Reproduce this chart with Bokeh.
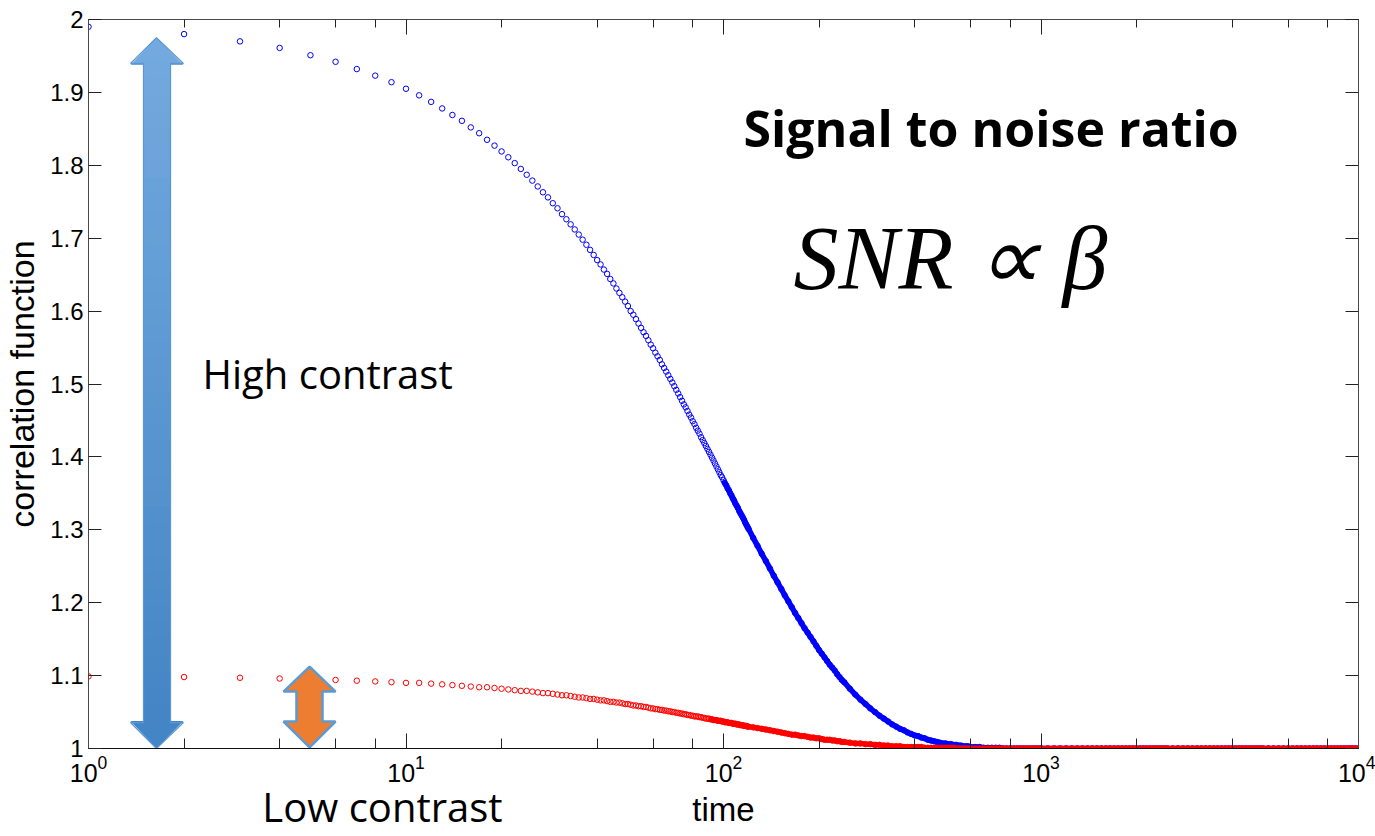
from bokeh.plotting import figure
from bokeh.models import (LogAxis, LinearAxis, FixedTicker, LogTicker,
                          CustomJSTickFormatter, Label)
from bokeh.embed import file_html
from bokeh.resources import INLINE

# ---------------- data ----------------
# sample times (integer lags, thinned where markers merge into a band)
t_a = list(range(1, 61))
t_b_even = list(range(62, 121, 2))
t_b_odd = list(range(61, 120, 2))
t_c = list(range(124, 241, 4))
t_d = list(range(250, 601, 10))
t_e = list(range(620, 1001, 20))
t_tail = list(range(1050, 2501, 50)) + list(range(2600, 5001, 100)) + list(range(5200, 10001, 200))

blue_a = [1.990, 1.980, 1.970, 1.961, 1.951, 1.942, 1.932, 1.923, 1.914, 1.905,
          1.896, 1.887, 1.878, 1.869, 1.861, 1.852, 1.844, 1.835, 1.827, 1.819,
          1.811, 1.803, 1.795, 1.787, 1.779, 1.771, 1.763, 1.756, 1.748, 1.741,
          1.733, 1.726, 1.719, 1.712, 1.705, 1.698, 1.691, 1.684, 1.677, 1.670,
          1.664, 1.657, 1.651, 1.644, 1.638, 1.631, 1.625, 1.619, 1.613, 1.607,
          1.600, 1.595, 1.589, 1.583, 1.577, 1.571, 1.566, 1.560, 1.554, 1.549]
blue_b_even = [1.538, 1.527, 1.517, 1.507, 1.497, 1.487, 1.477, 1.468, 1.458, 1.449,
               1.440, 1.432, 1.423, 1.415, 1.407, 1.399, 1.391, 1.383, 1.375, 1.368,
               1.361, 1.354, 1.347, 1.340, 1.333, 1.326, 1.320, 1.314, 1.307, 1.301]
blue_b_odd = [1.543, 1.533, 1.522, 1.512, 1.502, 1.492, 1.482, 1.472, 1.463, 1.454,
              1.445, 1.436, 1.427, 1.419, 1.411, 1.403, 1.395, 1.387, 1.379, 1.372,
              1.364, 1.357, 1.350, 1.343, 1.336, 1.330, 1.323, 1.317, 1.310, 1.304]
blue_c = [1.289, 1.278, 1.267, 1.257, 1.247, 1.237, 1.228, 1.219, 1.210, 1.202,
          1.194, 1.186, 1.179, 1.172, 1.165, 1.159, 1.153, 1.147, 1.141, 1.135,
          1.130, 1.125, 1.120, 1.115, 1.111, 1.107, 1.102, 1.098, 1.094, 1.091]
blue_d = [1.082, 1.074, 1.067, 1.061, 1.055, 1.050, 1.045, 1.041, 1.037, 1.033,
          1.030, 1.027, 1.025, 1.022, 1.020, 1.018, 1.017, 1.015, 1.014, 1.012,
          1.011, 1.010, 1.009, 1.008, 1.007, 1.007, 1.006, 1.006, 1.005, 1.005,
          1.004, 1.004, 1.003, 1.003, 1.003, 1.002]
blue_e = [1.002, 1.002, 1.001, 1.001, 1.001, 1.001, 1.001, 1.000, 1.000, 1.000,
          1.000, 1.000, 1.000, 1.000, 1.000, 1.000, 1.000, 1.000, 1.000, 1.000]

red_a = [1.099, 1.098, 1.097, 1.096, 1.095, 1.094, 1.093, 1.092, 1.091, 1.090,
         1.090, 1.089, 1.088, 1.087, 1.086, 1.085, 1.084, 1.084, 1.083, 1.082,
         1.081, 1.080, 1.079, 1.079, 1.078, 1.077, 1.076, 1.076, 1.075, 1.074,
         1.073, 1.073, 1.072, 1.071, 1.070, 1.070, 1.069, 1.068, 1.068, 1.067,
         1.066, 1.066, 1.065, 1.064, 1.064, 1.063, 1.063, 1.062, 1.061, 1.061,
         1.060, 1.059, 1.059, 1.058, 1.058, 1.057, 1.057, 1.056, 1.055, 1.055]
red_b_even = [1.054, 1.053, 1.052, 1.051, 1.050, 1.049, 1.048, 1.047, 1.046, 1.045,
              1.044, 1.043, 1.042, 1.041, 1.041, 1.040, 1.039, 1.038, 1.038, 1.037,
              1.036, 1.035, 1.035, 1.034, 1.033, 1.033, 1.032, 1.031, 1.031, 1.030]
red_b_odd = [1.054, 1.053, 1.052, 1.051, 1.050, 1.049, 1.048, 1.047, 1.046, 1.045,
             1.044, 1.044, 1.043, 1.042, 1.041, 1.040, 1.039, 1.039, 1.038, 1.037,
             1.036, 1.036, 1.035, 1.034, 1.034, 1.033, 1.032, 1.032, 1.031, 1.030]
red_c = [1.029, 1.028, 1.027, 1.026, 1.025, 1.024, 1.023, 1.022, 1.021, 1.020,
         1.019, 1.019, 1.018, 1.017, 1.017, 1.016, 1.015, 1.015, 1.014, 1.014,
         1.013, 1.012, 1.012, 1.012, 1.011, 1.011, 1.010, 1.010, 1.009, 1.009]
red_d = [1.008, 1.007, 1.007, 1.006, 1.006, 1.005, 1.005, 1.004, 1.004, 1.003,
         1.003, 1.003, 1.002, 1.002, 1.002, 1.002, 1.002, 1.002, 1.001, 1.001,
         1.001, 1.001, 1.001, 1.001, 1.001, 1.001, 1.001, 1.001, 1.001, 1.000,
         1.000, 1.000, 1.000, 1.000, 1.000, 1.000]
red_e = [1.000, 1.000, 1.000, 1.000, 1.000, 1.000, 1.000, 1.000, 1.000, 1.000,
         1.000, 1.000, 1.000, 1.000, 1.000, 1.000, 1.000, 1.000, 1.000, 1.000]

# flat tail (t > 1000): both curves read 1.000
tail_level = [1.0, 1.0, 1.0, 1.0, 1.0, 1.0, 1.0, 1.0, 1.0, 1.0,
              1.0, 1.0, 1.0, 1.0, 1.0, 1.0, 1.0, 1.0, 1.0, 1.0,
              1.0, 1.0, 1.0, 1.0, 1.0, 1.0, 1.0, 1.0, 1.0, 1.0,
              1.0, 1.0, 1.0, 1.0, 1.0, 1.0, 1.0, 1.0, 1.0, 1.0,
              1.0, 1.0, 1.0, 1.0, 1.0, 1.0, 1.0, 1.0, 1.0, 1.0,
              1.0, 1.0, 1.0, 1.0, 1.0, 1.0, 1.0, 1.0, 1.0, 1.0,
              1.0, 1.0, 1.0, 1.0, 1.0, 1.0, 1.0, 1.0, 1.0, 1.0,
              1.0, 1.0, 1.0, 1.0, 1.0, 1.0, 1.0, 1.0, 1.0, 1.0]

y_ticks = [1.0, 1.1, 1.2, 1.3, 1.4, 1.5, 1.6, 1.7, 1.8, 1.9, 2.0]

time = t_a + t_b_even + t_b_odd + t_c + t_d + t_e + t_tail
g_high = blue_a + blue_b_even + blue_b_odd + blue_c + blue_d + blue_e + tail_level
g_low = red_a + red_b_even + red_b_odd + red_c + red_d + red_e + tail_level

# dense part, where the markers merge into a solid band
dense_high = sorted((t, v) for t, v in zip(time, g_high) if t >= 100)
dense_low = sorted((t, v) for t, v in zip(time, g_low) if t >= 90)

# ---------------- figure ----------------
p = figure(width=1375, height=836, x_axis_type="log", x_range=(1, 10000), y_range=(1, 2),
           output_backend="svg", toolbar_location=None,
           min_border_left=88, min_border_right=17, min_border_top=19, min_border_bottom=87)
p.xgrid.visible = False
p.ygrid.visible = False
p.outline_line_color = "#4a4a4a"
p.outline_line_width = 1
p.background_fill_color = "white"
p.border_fill_color = "white"

TICK = "#222222"
FONT = "Liberation Sans"

xb = p.xaxis[0]
xb.ticker = LogTicker(desired_num_ticks=5)
xb.major_tick_in = 15
xb.major_tick_out = 0
xb.minor_tick_in = 10
xb.minor_tick_out = 0
xb.major_tick_line_color = TICK
xb.minor_tick_line_color = TICK
xb.axis_line_color = "#111111"
xb.major_label_text_font = FONT
xb.major_label_text_font_size = "25px"
xb.major_label_text_color = "black"
xb.major_label_standoff = 6
xb.axis_label = "time"
xb.axis_label_text_font = FONT
xb.axis_label_text_font_size = "33px"
xb.axis_label_text_font_style = "normal"
xb.axis_label_text_color = "black"
xb.axis_label_standoff = 6

# second, tick-less bottom axis carrying the "Low contrast" caption (same row as "time")
x_low_caption = [8.43]
xlow = LogAxis(ticker=FixedTicker(ticks=x_low_caption, minor_ticks=[]),
               formatter=CustomJSTickFormatter(code="return 'Low contrast';"),
               axis_line_color=None, major_tick_line_color=None, minor_tick_line_color=None,
               major_tick_in=0, major_tick_out=0, minor_tick_in=0, minor_tick_out=0,
               major_label_text_font="Open Sans", major_label_text_font_size="40px",
               major_label_text_color="black", major_label_standoff=-52)
p.add_layout(xlow, "below")

yl = p.yaxis[0]
yl.ticker = FixedTicker(ticks=y_ticks)
yl.formatter = CustomJSTickFormatter(code="return tick.toFixed(1).replace('.0', '');")
yl.major_tick_in = 13
yl.major_tick_out = 0
yl.minor_tick_line_color = None
yl.major_tick_line_color = TICK
yl.axis_line_color = "#4a4a4a"
yl.major_label_text_font = FONT
yl.major_label_text_font_size = "24px"
yl.major_label_text_color = "black"
yl.major_label_standoff = 5
yl.axis_label = "correlation function"
yl.axis_label_text_font = FONT
yl.axis_label_text_font_size = "34px"
yl.axis_label_text_font_style = "normal"
yl.axis_label_text_color = "black"
yl.axis_label_standoff = 6

xt = LogAxis(ticker=LogTicker(desired_num_ticks=5), major_tick_in=15, major_tick_out=0,
             minor_tick_in=8, minor_tick_out=0, major_tick_line_color=TICK,
             minor_tick_line_color=TICK, axis_line_color="#4a4a4a",
             major_label_text_font_size="2px", major_label_text_alpha=0,
             major_label_standoff=0)
p.add_layout(xt, "above")
yr = LinearAxis(ticker=FixedTicker(ticks=y_ticks), major_tick_in=13, major_tick_out=0,
                minor_tick_line_color=None, major_tick_line_color=TICK,
                axis_line_color="#4a4a4a", major_label_text_font_size="2px",
                major_label_text_alpha=0, major_label_standoff=0)
p.add_layout(yr, "right")

# ---------------- data markers ----------------
p.line(x=[t for t, v in dense_high], y=[v for t, v in dense_high], line_color="#0000ff",
       line_width=5.5)
p.scatter(x=time, y=g_high, marker="circle", size=5.5, fill_color=None,
          line_color="#0000ff", line_width=1)
p.line(x=[t for t, v in dense_low], y=[v for t, v in dense_low], line_color="#ff0000",
       line_width=5.5)
p.scatter(x=time, y=g_low, marker="circle", size=5.5, fill_color=None,
          line_color="#ff0000", line_width=1)

# ---------------- annotation arrows ----------------
def hex2rgb(h):
    return tuple(int(h[i:i + 2], 16) for i in (1, 3, 5))

def rgb2hex(c):
    return "#%02x%02x%02x" % tuple(int(round(v)) for v in c)

def double_arrow(cx, hl, hr, bl, br, top, htb, hbb, bot):
    xs = [cx, hr, br, br, hr, cx, hl, bl, bl, hl]
    ys = [top, htb, htb, hbb, hbb, bot, hbb, hbb, htb, htb]
    return xs, ys

# big blue arrow (gradient from light top to darker bottom)
b_cx, b_hl, b_hr, b_bl, b_br = 1.637, 1.356, 1.991, 1.490, 1.813
b_top, b_htb, b_hbb, b_bot = 1.975, 1.9397, 1.0356, 1.0
c_top, c_bot = hex2rgb("#72a9de"), hex2rgb("#4485c5")
p.patch([b_cx, b_hr, b_hl], [b_top, b_htb - 0.002, b_htb - 0.002], fill_color=rgb2hex(c_top),
        line_color=None)
p.patch([b_cx, b_hr, b_hl], [b_bot, b_hbb + 0.002, b_hbb + 0.002], fill_color=rgb2hex(c_bot),
        line_color=None)
n = 40
for i in range(n):
    y0 = b_htb - (b_htb - b_hbb) * i / n
    y1 = b_htb - (b_htb - b_hbb) * (i + 1) / n
    f = (i + 0.5) / n
    col = tuple(c_top[k] + (c_bot[k] - c_top[k]) * f for k in range(3))
    p.quad(left=b_bl, right=b_br, top=y0 + 0.002, bottom=y1 - 0.002,
           fill_color=rgb2hex(col), line_color=None)
bxs, bys = double_arrow(b_cx, b_hl, b_hr, b_bl, b_br, b_top, b_htb, b_hbb, b_bot)
p.patch(bxs, bys, fill_color=None, line_color="#5b98d3", line_width=1.2)

# small orange arrow
oxs, oys = double_arrow(4.97, 4.114, 5.998, 4.519, 5.458, 1.1123, 1.0781, 1.037, 1.0014)
p.patch(oxs, oys, fill_color="#ed7d31", line_color="#5b9bd5", line_width=2.5)

# ---------------- texts ----------------
p.add_layout(Label(x=115.6, y=1.8507, text="Signal to noise ratio", text_font="Open Sans",
                   text_font_style="bold", text_font_size="50px", text_color="black",
                   text_baseline="alphabetic"))
p.add_layout(Label(x=166.2, y=1.6726, text="SNR \u221d \u03b2",
                   text_font="Liberation Serif, Times New Roman, serif",
                   text_font_style="italic", text_font_size="90px", text_color="black",
                   text_baseline="alphabetic"))
p.add_layout(Label(x=2.286, y=1.515, text="High contrast", text_font="Open Sans",
                   text_font_size="40px", text_color="black", text_baseline="alphabetic"))

open("out.html", "w").write(file_html(p, INLINE))
